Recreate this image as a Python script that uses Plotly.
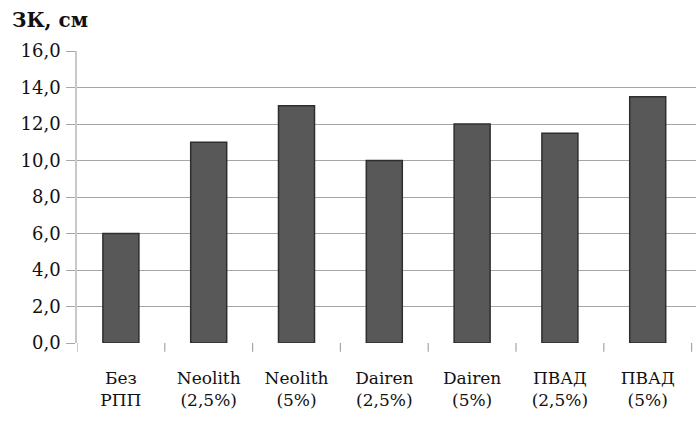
import plotly.graph_objects as go

categories = ["Без<br>РПП", "Neolith<br>(2,5%)", "Neolith<br>(5%)", "Dairen<br>(2,5%)",
              "Dairen<br>(5%)", "ПВАД<br>(2,5%)", "ПВАД<br>(5%)"]
values = [6.0, 11.0, 13.0, 10.0, 12.0, 11.5, 13.5]
y_ticks = [0, 2, 4, 6, 8, 10, 12, 14, 16]
y_tick_text = ["0,0", "2,0", "4,0", "6,0", "8,0", "10,0", "12,0", "14,0", "16,0"]

serif = "DejaVu Serif"

fig = go.Figure()
fig.add_trace(go.Bar(
    x=list(range(len(categories))),
    y=values,
    width=0.41,
    marker=dict(color="#585858", line=dict(color="#2e2e2e", width=1.5)),
))

fig.update_layout(
    width=696, height=422,
    margin=dict(l=77, r=0, t=51, b=79),
    paper_bgcolor="white", plot_bgcolor="white",
    showlegend=False,
    font=dict(family=serif),
    xaxis=dict(
        range=[-0.5, 6.55],
        tickmode="array",
        tickvals=list(range(len(categories))),
        ticktext=categories,
        showgrid=False,
        zeroline=False,
        showline=False,
        ticks="",
        tickfont=dict(family=serif, size=17, color="#111"),
        ticklabelstandoff=23,
    ),
    yaxis=dict(
        range=[0, 16],
        tickmode="array",
        tickvals=y_ticks,
        ticktext=y_tick_text,
        showgrid=True, gridcolor="#a6a6a6", gridwidth=1.2,
        zeroline=False,
        showline=True, linecolor="#c8c8c8", linewidth=1.5,
        ticks="outside", ticklen=9, tickcolor="#a6a6a6",
        tickfont=dict(family=serif, size=18, color="#111"),
        ticklabelstandoff=2,
    ),
)

# category separator ticks below the baseline
for i in range(len(categories) + 1):
    xb = i - 0.5
    if xb > 6.55:
        continue
    fig.add_shape(type="line", xref="x", yref="paper", x0=xb, x1=xb, y0=0, y1=-0.03,
                  line=dict(color="#a6a6a6", width=1.2))

fig.add_annotation(text="<b>ЗК, см</b>", xref="paper", yref="paper", x=-0.108, y=1.107,
                   xanchor="left", yanchor="middle", showarrow=False,
                   font=dict(family=serif, size=20, color="#111"))

fig.write_html("out.html")
